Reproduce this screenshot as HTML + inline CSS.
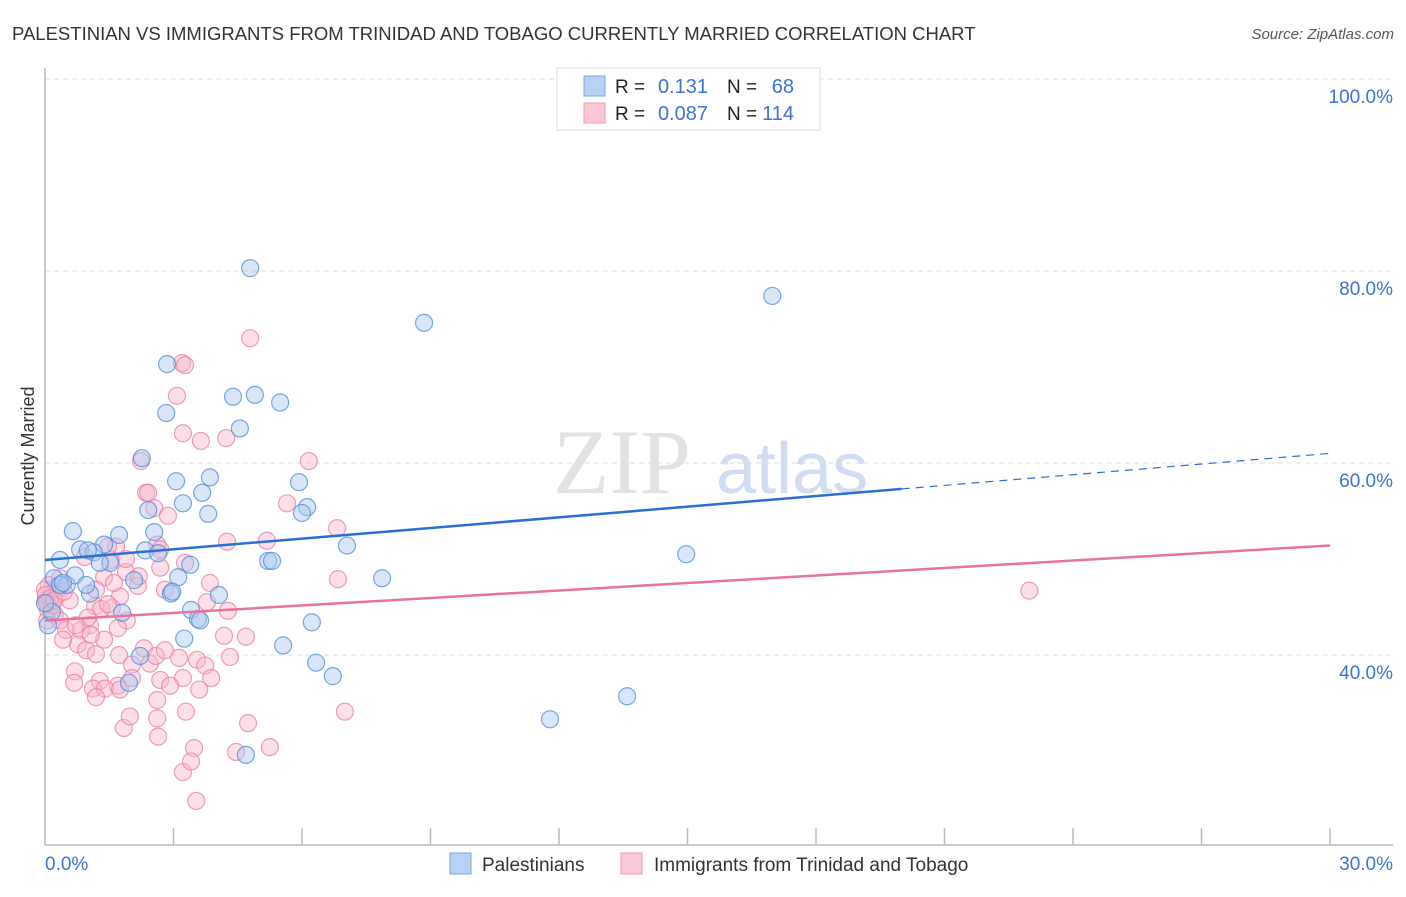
<!DOCTYPE html>
<html><head><meta charset="utf-8"><style>
body{margin:0;background:#fff;font-family:"Liberation Sans",sans-serif;}
svg text{font-family:"Liberation Sans",sans-serif;}
</style></head><body>
<svg id="chart" width="1406" height="892" viewBox="0 0 1406 892" xmlns="http://www.w3.org/2000/svg">
<text x="12" y="40" font-size="18.5" fill="#333">PALESTINIAN VS IMMIGRANTS FROM TRINIDAD AND TOBAGO CURRENTLY MARRIED CORRELATION CHART</text>
<text x="1394" y="39" font-size="15" fill="#555" font-style="italic" text-anchor="end">Source: ZipAtlas.com</text>
<text x="34" y="456" font-size="18" fill="#333" text-anchor="middle" transform="rotate(-90 34 456)">Currently Married</text>
<g>
<text x="553" y="493" font-size="92" font-family="Liberation Serif,serif" fill="#e2e2e2" style="font-family:'Liberation Serif',serif">ZIP</text>
<text x="716" y="493" font-size="72" fill="#cfdcf2">atlas</text>
</g>
<g id="grid"></g>
<g id="axes"></g>
<g id="marks"></g>
<g>
<rect x="557" y="68" width="263" height="62" fill="#fff" stroke="#ddd"/>
<rect x="584" y="76" width="21" height="20" fill="#b8d2f5" stroke="#7aa5e6"/>
<rect x="584" y="103" width="21" height="20" fill="#fbc8d8" stroke="#ee9ab6"/>
<text x="615" y="93" font-size="19" fill="#222">R = </text><text x="708" y="93" font-size="20" fill="#3b74d1" text-anchor="end">0.131</text>
<text x="727" y="93" font-size="19" fill="#222">N = </text><text x="794" y="93" font-size="20" fill="#3b74d1" text-anchor="end">68</text>
<text x="615" y="120" font-size="19" fill="#222">R = </text><text x="708" y="120" font-size="20" fill="#3b74d1" text-anchor="end">0.087</text>
<text x="727" y="120" font-size="19" fill="#222">N = </text><text x="794" y="120" font-size="20" fill="#3b74d1" text-anchor="end">114</text>
</g>
<g>
<rect x="450" y="853" width="21" height="21" fill="#b8d2f5" stroke="#7aa5e6"/>
<text x="482" y="871" font-size="19" fill="#333">Palestinians</text>
<rect x="621" y="853" width="21" height="21" fill="#fbc8d8" stroke="#ee9ab6"/>
<text x="654" y="871" font-size="19" fill="#333">Immigrants from Trinidad and Tobago</text>
</g>
</svg>
<script>
const blueX=[4.79,16.98,8.85,2.85,4.90,4.39,5.49,2.83,4.55,2.26,3.06,3.85,5.93,3.67,3.22,6.12,2.41,3.81,6.0,0.65,2.55,1.73,7.05,1.38,0.82,1.14,2.34,2.64,0.35,14.97,5.21,5.30,1.52,3.39,1.28,7.87,0.21,0.51,2.08,1.05,2.94,4.06,3.41,6.23,3.57,1.80,3.25,5.56,6.33,2.22,6.72,1.96,13.59,11.79,4.69,0.35,0.07,0.16,0,0.70,0.42,0.96,1.0,3.11,2.97,3.62];
const blueY=[80.3,77.4,74.6,70.3,67.1,66.9,66.3,65.2,63.6,60.5,58.1,58.5,58.0,56.9,55.8,55.4,55.1,54.7,54.8,52.9,52.8,52.5,51.4,51.5,51.0,50.7,50.9,50.6,49.9,50.5,49.8,49.8,49.6,49.4,49.6,48.0,48.0,47.3,47.8,46.4,46.4,46.25,44.7,43.4,43.75,44.4,41.7,41.0,39.2,39.9,37.8,37.1,35.7,33.3,29.6,47.3,43.1,44.5,45.4,48.3,47.5,47.3,50.9,48.1,46.6,43.6];
const pinkX=[4.79,3.20,3.27,3.08,3.22,3.64,4.23,6.16,2.24,2.36,5.65,2.55,2.87,6.82,5.18,4.25,1.66,0.93,3.27,2.69,1.89,3.85,1.38,6.84,2.80,1.75,3.78,1.56,2.17,1.61,1.19,1.91,0.30,0.58,0.02,0.07,0.16,0.23,0.35,0.49,1.05,1.17,1.31,1.47,0.84,1.0,0.77,0.96,1.19,1.38,1.73,2.03,1.70,2.31,2.45,2.59,2.80,3.13,3.55,3.74,4.18,4.69,4.32,3.88,3.60,3.22,2.69,2.92,0.70,0.68,1.28,1.12,1.40,1.75,2.03,1.19,1.84,1.98,2.62,2.62,2.64,3.29,3.48,3.22,3.41,3.53,4.46,4.74,5.25,7.0,22.98,2.41,2.62,1.54,2.19,0.42,0.72,1.70,0.09,0.26,0,0.02,0.12,0.05,0.21,0.05,0.35,0.44,1.89,1.47,2.69,4.27,1.07];
const pinkY=[73.0,70.4,70.2,67.0,63.1,62.3,62.6,60.2,60.2,56.9,55.8,55.3,54.5,53.2,51.9,51.8,51.3,50.2,49.6,49.1,48.65,47.5,48.1,47.9,46.8,46.1,45.5,44.9,47.2,47.5,46.8,43.6,46.25,45.7,45.7,44.7,45.2,44.2,43.6,42.6,43.1,45.1,44.8,45.3,42.6,43.9,41.1,40.5,40.1,41.6,40.0,39.0,36.8,40.7,39.1,39.9,40.5,39.7,39.5,38.9,42.0,41.9,39.8,37.6,36.4,37.6,37.4,36.8,38.3,37.1,37.3,36.5,36.5,36.4,37.6,35.6,32.4,33.6,35.3,33.4,31.5,34.1,30.3,27.8,28.9,24.8,29.9,32.9,30.4,34.1,46.7,56.9,51.5,49.9,48.2,41.6,43.1,42.8,47.3,47.0,46.8,46.25,45.9,45.4,45.7,43.6,48.0,46.6,50.0,51.3,51.0,44.6,42.1];
const blueTrend=[49.9,61.0];
const pinkTrend=[43.6,51.4];
const blueSolidEnd=20.0;
const yTicks=[100,80,60,40];
const yTickLabels=["100.0%","80.0%","60.0%","40.0%"];
const xTickCount=10;
const xLabels=["0.0%","30.0%"];

const NS="http://www.w3.org/2000/svg";
const X0=45,X1=1330,XMAX=30;
function sx(v){return X0+(X1-X0)*v/XMAX;}
function sy(v){return 79+(100-v)*9.6;}
function mk(tag,attrs,parent){const e=document.createElementNS(NS,tag);for(const k in attrs)e.setAttribute(k,attrs[k]);parent.appendChild(e);return e;}
const grid=document.getElementById('grid'),axes=document.getElementById('axes'),marks=document.getElementById('marks');
yTicks.forEach((t,i)=>{
  const l=mk('line',{x1:45,x2:1393,y1:sy(t),y2:sy(t),stroke:'#ddd','stroke-dasharray':'5,4'},grid);
  
  
  const tx=mk('text',{x:1393,y:sy(t)+24,'font-size':19,fill:'#3b74d1','text-anchor':'end'},axes);
  tx.textContent=yTickLabels[i];
  
  
});
const ya=mk('line',{x1:45,x2:45,y1:68,y2:845,stroke:'#bbb','stroke-width':1.5},axes);


const xa=mk('line',{x1:45,x2:1393,y1:845,y2:845,stroke:'#bbb','stroke-width':1.5},axes);


for(let i=1;i<=xTickCount;i++){
  const v=XMAX*i/xTickCount;
  const t=mk('line',{x1:sx(v),x2:sx(v),y1:828,y2:845,stroke:'#bbb','stroke-width':1.5},axes);
  
  
}
const xl0=mk('text',{x:45,y:870,'font-size':19,fill:'#3b74d1'},axes);
xl0.textContent=xLabels[0];


const xl1=mk('text',{x:1393,y:870,'font-size':19,fill:'#3b74d1','text-anchor':'end'},axes);
xl1.textContent=xLabels[1];



function pts(xs,ys,fill,stroke,name){
  xs.forEach((x,i)=>{
    const c=mk('circle',{cx:sx(x),cy:sy(ys[i]),r:8.5,fill:fill,'fill-opacity':0.45,stroke:stroke,'stroke-opacity':0.75,'stroke-width':1.2},marks);
    
    
  });
}
pts(pinkX,pinkY,'#f8b9cd','#e87fa3','trinidad-point');
pts(blueX,blueY,'#a9c8f0','#4f8ad8','palestinian-point');
function lerp(tr,x){return tr[0]+(tr[1]-tr[0])*x/XMAX;}
const pl=mk('line',{x1:sx(0),y1:sy(pinkTrend[0]),x2:sx(XMAX),y2:sy(pinkTrend[1]),stroke:'#e8739c','stroke-width':2.5},marks);


const bl=mk('line',{x1:sx(0),y1:sy(blueTrend[0]),x2:sx(blueSolidEnd),y2:sy(lerp(blueTrend,blueSolidEnd)),stroke:'#2a6fd6','stroke-width':2.5},marks);


const bd=mk('line',{x1:sx(blueSolidEnd),y1:sy(lerp(blueTrend,blueSolidEnd)),x2:sx(XMAX),y2:sy(blueTrend[1]),stroke:'#2a6fd6','stroke-width':1.2,'stroke-dasharray':'8,6'},marks);


</script>
</body></html>
